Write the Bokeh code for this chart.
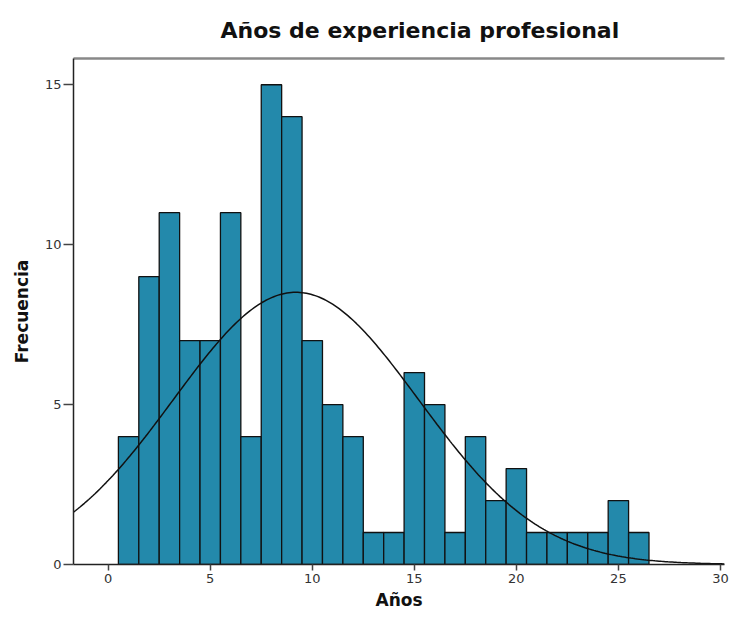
import numpy as np
from bokeh.plotting import figure
from bokeh.models import ColumnDataSource, Range1d, LinearAxis, FixedTicker
from bokeh.embed import file_html
from bokeh.resources import INLINE

# Histogram data (bin centres, frequencies)
years = [1, 2, 3, 4, 5, 6, 7, 8, 9, 10, 11, 12, 13, 14, 15, 16, 17, 18, 19, 20, 21, 22, 23, 24, 25, 26]
freq = [4, 9, 11, 7, 7, 11, 4, 15, 14, 7, 5, 4, 1, 1, 6, 5, 1, 4, 2, 3, 1, 1, 1, 1, 2, 1]
bin_width = 1.0
# Fitted normal curve parameters
fit_mean = 9.2
fit_sd = 6.0
x_ticks = [0, 5, 10, 15, 20, 25, 30]
y_ticks = [0, 5, 10, 15]

n_total = sum(freq)
curve_x = np.linspace(-1.7, 30.2, 300)
curve_y = n_total * bin_width / (fit_sd * np.sqrt(2 * np.pi)) * np.exp(-0.5 * ((curve_x - fit_mean) / fit_sd) ** 2)

p = figure(frame_width=651, frame_height=506, output_backend="svg", toolbar_location=None,
           x_range=Range1d(-1.7, 30.2), y_range=Range1d(0, 15.82),
           min_border_left=73, min_border_right=7, min_border_top=55, min_border_bottom=45,
           title="Años de experiencia profesional")
p.outline_line_color = None
p.grid.visible = False
p.background_fill_color = "white"

p.title.align = "left"
p.title.offset = 147
p.title.standoff = 31
p.title.text_font = "DejaVu Sans"
p.title.text_font_size = "22px"
p.title.text_font_style = "bold"
p.title.text_color = "#111111"

src = ColumnDataSource(dict(x=years, top=freq))
p.vbar(x="x", top="top", bottom=0, width=bin_width, source=src,
       fill_color="#2389ab", line_color="#111111", line_width=1.3)
p.line(curve_x, curve_y, line_color="#111111", line_width=1.5)

# axes
for ax in (p.xaxis[0], p.yaxis[0]):
    ax.axis_line_color = "#222222"
    ax.axis_line_width = 1.5
    ax.major_tick_line_color = "#444444"
    ax.major_tick_line_width = 1.5
    ax.minor_tick_line_color = None
    ax.major_tick_in = 0
    ax.major_label_text_font = "DejaVu Sans"
    ax.major_label_text_font_size = "13px"
    ax.major_label_text_color = "#333333"
    ax.axis_label_text_font = "DejaVu Sans"
    ax.axis_label_text_font_style = "bold"
    ax.axis_label_text_font_size = "17px"
    ax.axis_label_text_color = "#111111"

p.xaxis.ticker = FixedTicker(ticks=x_ticks)
p.yaxis.ticker = FixedTicker(ticks=y_ticks)
p.xaxis.major_tick_out = 6
p.yaxis.major_tick_out = 10
p.xaxis.major_label_standoff = 3
p.yaxis.major_label_standoff = 2
p.xaxis.axis_label = "Años"
p.xaxis.axis_label_standoff = 4
p.yaxis.axis_label = "Frecuencia"
p.yaxis.axis_label_standoff = 10

top_ax = LinearAxis(ticker=FixedTicker(ticks=[]), major_label_text_font_size="0px",
                    axis_line_color="#888888", axis_line_width=2.5,
                    major_tick_line_color=None, minor_tick_line_color=None)
p.add_layout(top_ax, "above")

open("out.html", "w").write(file_html(p, INLINE))
